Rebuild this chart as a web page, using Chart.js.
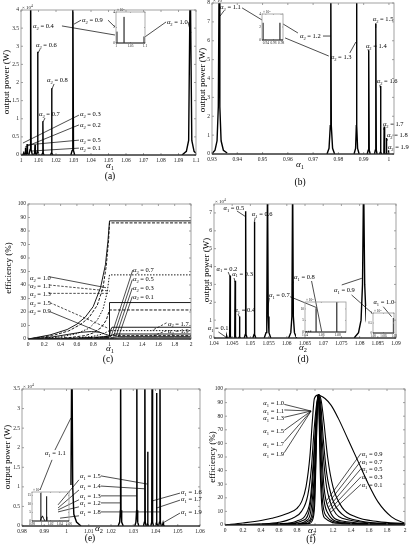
<!DOCTYPE html>
<html>
<head>
<meta charset="utf-8">
<script src="https://cdn.jsdelivr.net/npm/chart.js@4.4.1/dist/chart.umd.min.js"></script>
<style>
  body { margin: 0; background: #fff; }
  #page { position: relative; width: 415px; height: 550px; overflow: hidden; background: #fff; }
  .cell { position: absolute; }
</style>
</head>
<body>
<div id="page"></div>
<script>
// ---------- (a) output power vs alpha1, alpha2 = 0.1 .. 1.0 (x10^4 W) ----------
const aTicksX = [1, 1.01, 1.02, 1.03, 1.04, 1.05, 1.06, 1.07, 1.08, 1.09, 1.1];
const aTicksY = [0, 0.5, 1, 1.5, 2, 2.5, 3, 3.5, 4];
const aPeaks = [
  [[1.0008, 0], [1.0013, 0.03], [1.0015, 0.1], [1.0017, 0.03], [1.0022, 0]],          // 0.1
  [[1.0018, 0], [1.0023, 0.05], [1.0025, 0.2], [1.0027, 0.05], [1.0032, 0]],          // 0.2
  [[1.0028, 0], [1.0033, 0.07], [1.0035, 0.3], [1.0037, 0.07], [1.0042, 0]],          // 0.3
  [[1.0045, 0], [1.0052, 0.15], [1.0055, 5], [1.0058, 0.15], [1.0065, 0]],            // 0.4
  [[1.0072, 0], [1.0078, 0.06], [1.008, 0.28], [1.0082, 0.06], [1.0088, 0]],          // 0.5
  [[1.0088, 0], [1.0093, 0.1], [1.0095, 2.85], [1.0097, 0.1], [1.0102, 0]],           // 0.6
  [[1.0118, 0], [1.0123, 0.05], [1.0125, 0.93], [1.0127, 0.05], [1.0132, 0]],         // 0.7
  [[1.0168, 0], [1.0173, 0.05], [1.0175, 1.84], [1.0177, 0.05], [1.0182, 0]],         // 0.8
  [[1.0285, 0], [1.0292, 0.12], [1.0296, 5], [1.03, 0.12], [1.0307, 0]],              // 0.9
  [[1.092, 0], [1.0945, 0.1], [1.0958, 0.4], [1.0967, 5], [1.0976, 0.4], [1.0989, 0.1], [1.1, 0.05]] // 1.0
];
const aNotes = [
  {v: '0.4', x: 1.0069, y: 3.50, l: [[1.0234, 3.56, 1.0537, 3.31]]},
  {v: '0.9', x: 1.0349, y: 3.67, l: [[1.0343, 3.72, 1.0303, 3.61], [1.0497, 3.72, 1.0537, 3.53]]},
  {v: '1.0', x: 1.0834, y: 3.61, l: [[1.0829, 3.67, 1.0709, 3.26], [1.0954, 3.67, 1.0971, 3.37]]},
  {v: '0.6', x: 1.0086, y: 2.98, l: [[1.0109, 2.92, 1.0097, 2.81]]},
  {v: '0.8', x: 1.0149, y: 2.01, l: [[1.0189, 1.96, 1.0177, 1.82]]},
  {v: '0.7', x: 1.0103, y: 1.08, l: [[1.0137, 1.02, 1.0126, 0.91]]},
  {v: '0.3', x: 1.0337, y: 1.08, l: [[1.0331, 1.10, 1.0011, 0.33]]},
  {v: '0.2', x: 1.0337, y: 0.77, l: [[1.0331, 0.83, 1.0023, 0.22]]},
  {v: '0.5', x: 1.0337, y: 0.36, l: [[1.0331, 0.41, 1.004, 0.28]]},
  {v: '0.1', x: 1.0337, y: 0.14, l: [[1.0331, 0.19, 1.0063, 0.11]]}
];
const aInsetTicksX = [1, 1.05, 1.1];
const aInsetTicksY = [0, 2, 4];
const aInset = [
  [[1.0033, 0], [1.0033, 1.47]],
  [[1.0277, 0], [1.0277, 3.37]],
  [[1.0967, 0], [1.0967, 0.84]]
];

// ---------- (b) output power vs alpha1, alpha2 = 1.1 .. 1.9 ----------
const bTicksX = [0.93, 0.94, 0.95, 0.96, 0.97, 0.98, 0.99, 1];
const bTicksY = [0, 1, 2, 3, 4, 5, 6, 7, 8];
const bPeaks = [
  [[0.93, 0.02], [0.9312, 0.2], [0.932, 0.7], [0.9325, 2.5], [0.9328, 9], [0.9331, 2.5], [0.9336, 0.7], [0.9345, 0.2], [0.936, 0.05]], // 1.1
  [[0.9755, 0], [0.9763, 0.3], [0.9768, 1.5], [0.977, 9], [0.9772, 1.5], [0.9777, 0.3], [0.9785, 0]],  // 1.2
  [[0.9862, 0], [0.9868, 0.3], [0.9871, 1.5], [0.9872, 9], [0.9873, 1.5], [0.9876, 0.3], [0.9882, 0]], // 1.3
  [[0.9914, 0], [0.9918, 0.2], [0.992, 5.5], [0.9922, 0.2], [0.9926, 0]],    // 1.4
  [[0.9943, 0], [0.9946, 0.2], [0.9948, 6.9], [0.995, 0.2], [0.9953, 0]],    // 1.5
  [[0.9963, 0], [0.9966, 0.1], [0.9967, 3.6], [0.9968, 0.1], [0.9971, 0]],   // 1.6
  [[0.9978, 0], [0.998, 0.05], [0.9981, 1.45], [0.9982, 0.05], [0.9984, 0]], // 1.7
  [[0.9987, 0], [0.9989, 0.03], [0.999, 0.85], [0.9991, 0.03], [0.9993, 0]], // 1.8
  [[0.9995, 0], [0.9997, 0.02], [0.9998, 0.2], [0.9999, 0.02], [1.0001, 0]]  // 1.9
];
const bNotes = [
  {v: '1.1', x: 0.9332, y: 7.68, l: [[0.9347, 7.58, 0.9332, 7.31], [0.9419, 7.74, 0.9498, 7.10]]},
  {v: '1.2', x: 0.9648, y: 6.15, l: [[0.9739, 6.25, 0.977, 6.25], [0.964, 6.41, 0.9581, 6.89]]},
  {v: '1.3', x: 0.977, y: 5.03, l: [[0.9845, 5.35, 0.9869, 5.93], [0.9762, 5.19, 0.9589, 6.15]]},
  {v: '1.4', x: 0.9909, y: 5.62, l: [[0.9917, 5.56, 0.992, 5.4]]},
  {v: '1.5', x: 0.9936, y: 7.05, l: [[0.9948, 6.94, 0.9948, 6.68]]},
  {v: '1.6', x: 0.9952, y: 3.76, l: [[0.9964, 3.66, 0.9966, 3.5]]},
  {v: '1.7', x: 0.9976, y: 1.48, l: [[0.998, 1.38, 0.998, 1.27]]},
  {v: '1.8', x: 0.9992, y: 0.90, l: [[0.9994, 0.79, 0.9992, 0.69]]},
  {v: '1.9', x: 0.9996, y: 0.26, l: []}
];
const bInsetTicksX = [0.94, 0.96, 0.98];
const bInsetTicksY = [0, 2, 4];
const bInset = [
  [[0.9328, 0], [0.9328, 2.65]],
  [[0.977, 0], [0.977, 2.65]]
];

// ---------- (c) efficiency vs alpha1 ----------
const cTicksX = [0, 0.2, 0.4, 0.6, 0.8, 1, 1.2, 1.4, 1.6, 1.8, 2];
const cTicksY = [0, 10, 20, 30, 40, 50, 60, 70, 80, 90, 100];
const cNames = ['1.0', '1.1', '1.3', '1.5', '1.7', '1.9', '0.9', '0.7', '0.5', '0.3', '0.1'];
const cCurves = [
  [[0, 0], [0.27, 3], [0.48, 7], [0.6, 11], [0.7, 16], [0.8, 24], [0.89, 38], [0.95, 55], [0.98, 72], [1, 87.5], [2, 87.5]],
  [[0, 0], [0.3, 2.5], [0.5, 6], [0.65, 11], [0.75, 16], [0.85, 25], [0.92, 38], [0.96, 54], [0.99, 74], [1, 86], [2, 86]],
  [[0, 0], [0.4, 1.5], [0.6, 4], [0.75, 8], [0.85, 14], [0.92, 22], [0.97, 34], [1, 47.5], [2, 47.5]],
  [[0, 0], [0.5, 1], [0.7, 2.5], [0.8, 4.5], [0.9, 8.5], [0.96, 14], [1, 21.5], [2, 21.5]],
  [[0, 0], [0.6, 0.8], [0.8, 2], [0.9, 3.5], [0.96, 5], [1, 6.2], [2, 6.2]],
  [[0, 0], [0.7, 0.5], [0.9, 1.3], [1, 2.5], [2, 2.5]],
  [[0, 0], [0.3, 1.5], [0.5, 3.5], [0.65, 5], [0.78, 5.5], [0.88, 5], [0.95, 3.5], [1, 2.5], [1, 27], [2, 27]],
  [[0, 0], [0.5, 0.5], [0.8, 1.2], [0.95, 1.8], [1, 2], [1.01, 6], [1.03, 8.7], [2, 8.7]],
  [[0, 0], [0.6, 0.4], [0.9, 0.9], [1, 1.2], [1.02, 2.5], [1.06, 3.7], [2, 3.7]],
  [[0, 0], [0.7, 0.3], [1, 0.6], [1.04, 1.2], [1.1, 1.7], [2, 1.7]],
  [[0, 0], [1, 0.2], [1.06, 0.5], [1.14, 0.8], [2, 0.8]]
];
const cDash = [[], [3, 1.5], [1.5, 1.5], [3, 1.5], [1.5, 1.5], [3, 1.5], [], [], [], [], []];
const cNotes = [
  {v: '1.0', x: 0.025, y: 43.7, l: [[0.261, 46.1, 0.957, 38.0]]},
  {v: '1.1', x: 0.025, y: 38.1, l: [[0.261, 40, 1.006, 35.5]], d: true},
  {v: '1.3', x: 0.025, y: 31.9, l: [[0.261, 33.8, 0.985, 33.8]], d: true},
  {v: '1.5', x: 0.025, y: 25.2, l: [[0.27, 26.9, 0.985, 7.9]], d: true},
  {v: '0.9', x: 0.025, y: 18.9, l: [[0.27, 20.2, 0.883, 5]]},
  {v: '0.7', x: 1.288, y: 49.3, l: [[1.285, 51, 1.02, 2]]},
  {v: '0.5', x: 1.288, y: 42.6, l: [[1.28, 44, 1.05, 2]]},
  {v: '0.3', x: 1.288, y: 36.3, l: [[1.28, 37.8, 1.08, 2]]},
  {v: '0.1', x: 1.288, y: 30.0, l: [[1.28, 31.5, 1.11, 1.5]]},
  {v: '1.7', x: 1.718, y: 10.0, l: [[1.70, 12, 1.518, 6.2]], d: true},
  {v: '1.9', x: 1.718, y: 4.4, l: [[1.70, 6.2, 1.54, 2.5]], d: true}
];

// ---------- (d) output power vs alpha2, alpha1 = 0.1 .. 1.0 ----------
const dTicksX = [1.04, 1.045, 1.05, 1.055, 1.06, 1.065, 1.07, 1.075, 1.08, 1.085, 1.09];
const dTicksY = [0, 1, 2, 3, 4, 5, 6, 7];
const dPeaks = [
  [[1.0432, 0], [1.0434, 0.03], [1.0435, 0.1], [1.0436, 0.03], [1.0438, 0]],  // 0.1
  [[1.0441, 0], [1.0443, 0.1], [1.0444, 3.5], [1.0445, 0.1], [1.0447, 0]],    // 0.2
  [[1.0455, 0], [1.0457, 0.1], [1.0458, 3.2], [1.0459, 0.1], [1.0461, 0]],    // 0.3
  [[1.0467, 0], [1.0469, 0.05], [1.047, 1.2], [1.0471, 0.05], [1.0473, 0]],   // 0.4
  [[1.0483, 0], [1.0486, 0.2], [1.0487, 7.1], [1.0488, 0.2], [1.0491, 0]],    // 0.5
  [[1.0507, 0], [1.051, 0.2], [1.0511, 6.5], [1.0512, 0.2], [1.0515, 0]],     // 0.6
  [[1.0538, 0], [1.0543, 0.3], [1.0545, 1.2], [1.0547, 9], [1.0549, 1.2], [1.0551, 0.3], [1.0556, 0]], // 0.7
  [[1.0605, 0], [1.0611, 0.3], [1.0614, 1.2], [1.0616, 9], [1.0618, 1.2], [1.0621, 0.3], [1.0627, 0]], // 0.8
  [[1.0785, 0], [1.0797, 0.3], [1.0804, 1], [1.0808, 3], [1.0811, 9], [1.0814, 3], [1.0818, 1], [1.0825, 0.3], [1.0837, 0]] // 0.9
];
const dNotes = [
  {v: '0.1', x: 1.0383, y: 0.43, l: [[1.0412, 0.34, 1.0435, 0.02]]},
  {v: '0.2', x: 1.0407, y: 3.77, l: [[1.0439, 3.69, 1.0444, 3.44]]},
  {v: '0.3', x: 1.045, y: 3.49, l: [[1.0455, 3.36, 1.0458, 3.13]]},
  {v: '0.4', x: 1.0456, y: 1.44, l: [[1.0466, 1.34, 1.047, 1.18]]},
  {v: '0.5', x: 1.0426, y: 7.18, l: [[1.0463, 7.11, 1.0487, 6.79]]},
  {v: '0.6', x: 1.0504, y: 6.83, l: [[1.0513, 6.74, 1.0511, 6.51]]},
  {v: '0.7', x: 1.0551, y: 2.29, l: [[1.0552, 2.25, 1.0547, 1.57], [1.0609, 2.31, 1.0682, 1.70]]},
  {v: '0.8', x: 1.062, y: 3.28, l: [[1.0618, 3.15, 1.0615, 2.97], [1.0668, 3.19, 1.0696, 0.35]]},
  {v: '0.9', x: 1.073, y: 2.59, l: [[1.0751, 2.97, 1.0806, 3.34], [1.0778, 2.41, 1.0835, 1.38]]},
  {v: '1.0', x: 1.0838, y: 1.89, l: [[1.0865, 1.75, 1.0888, 1.19]]}
];
const dInset1TicksX = [1.04, 1.06, 1.08];
const dInset1TicksY = [0, 5, 10];
const dInset1 = [
  [[1.042, 0], [1.042, 0.4]],
  [[1.0445, 0], [1.0445, 0.5]],
  [[1.047, 0], [1.047, 0.6]],
  [[1.0535, 0], [1.0535, 10.3]],
  [[1.0788, 0], [1.0788, 14]]
];
const dInset2TicksX = [1.08, 1.085, 1.09];
const dInset2TicksY = [0, 0.5, 1];
const dInset2 = [
  [[1.0897, 0], [1.0897, 0.75]]
];

// ---------- (e) output power vs alpha2, alpha1 = 1.1 .. 1.9 ----------
const eTicksX = [0.98, 0.99, 1, 1.01, 1.02, 1.03, 1.04, 1.05, 1.06];
const eTicksY = [0, 0.5, 1, 1.5, 2, 2.5, 3, 3.5];
const ePeaks = [
  [[0.9985, 0], [1.0005, 0.1], [1.0015, 0.3], [1.002, 1], [1.0024, 5], [1.0028, 1], [1.0033, 0.3], [1.0045, 0.1], [1.0065, 0]], // 1.1
  [[1.0232, 0], [1.0239, 0.1], [1.0242, 0.4], [1.0243, 5], [1.0245, 0.4], [1.0248, 0.1], [1.0255, 0]], // 1.2
  [[1.0307, 0], [1.0312, 0.1], [1.0315, 0.4], [1.0316, 5], [1.0317, 0.4], [1.032, 0.1], [1.0325, 0]],  // 1.3
  [[1.0346, 0], [1.035, 0.1], [1.0352, 5], [1.0354, 0.1], [1.0358, 0]],       // 1.4
  [[1.0361, 0], [1.0364, 0.05], [1.0365, 1.9], [1.0366, 0.05], [1.0369, 0]],  // 1.5
  [[1.0379, 0], [1.0383, 0.1], [1.0385, 5], [1.0387, 0.1], [1.0391, 0]],      // 1.6
  [[1.04, 0], [1.0404, 0.08], [1.0405, 3.4], [1.0406, 0.08], [1.041, 0]],     // 1.7
  [[1.0414, 0], [1.0418, 0.1], [1.042, 5], [1.0422, 0.1], [1.0426, 0]],       // 1.8
  [[1.0428, 0], [1.0432, 0.03], [1.0434, 0.08], [1.0436, 0.03], [1.044, 0]]   // 1.9
];
const eNotes = [
  {v: '1.1', x: 0.9903, y: 1.81, l: [[0.9948, 1.94, 1.002, 2.76], [0.9935, 1.69, 0.9881, 0.92]]},
  {v: '1.5', x: 1.0061, y: 1.23, l: [[1.0155, 1.28, 1.0365, 1.07], [1.0056, 1.18, 0.9962, 0.54]]},
  {v: '1.4', x: 1.0061, y: 0.97, l: [[1.0155, 1.02, 1.0352, 0.95], [1.0056, 0.92, 0.9962, 0.46]]},
  {v: '1.3', x: 1.0061, y: 0.72, l: [[1.0155, 0.77, 1.0316, 0.77], [1.0056, 0.67, 0.9962, 0.41]]},
  {v: '1.2', x: 1.0061, y: 0.54, l: [[1.0155, 0.59, 1.0243, 0.59], [1.0056, 0.49, 0.9962, 0.36]]},
  {v: '1.8', x: 1.0061, y: 0.31, l: [[1.0155, 0.36, 1.042, 0.36], [1.0056, 0.26, 0.9971, 0.2]]},
  {v: '1.6', x: 1.0515, y: 0.82, l: [[1.051, 0.84, 1.0385, 0.64]]},
  {v: '1.7', x: 1.0515, y: 0.64, l: [[1.051, 0.66, 1.0405, 0.46]]},
  {v: '1.9', x: 1.0515, y: 0.31, l: [[1.051, 0.33, 1.0434, 0.08]]}
];
const eInsetTicksX = [0.98, 1, 1.02, 1.04, 1.06];
const eInsetTicksY = [0, 5, 10, 15];
const eInset = [
  [[0.9992, 0], [0.9992, 16.5]],
  [[0.998, 0], [1.0, 1.5], [1.0026, 3], [1.005, 1.5], [1.008, 0]],
  [[1.0117, 0], [1.0117, 14.5]],
  [[1.0122, 0], [1.0122, 2.5]]
];

// ---------- (f) efficiency vs alpha2 ----------
const fTicksX = [0, 0.2, 0.4, 0.6, 0.8, 1, 1.2, 1.4, 1.6, 1.8, 2];
const fTicksY = [0, 10, 20, 30, 40, 50, 60, 70, 80, 90, 100];
const fCurves = [
  [[0, 0], [0.2, 1.5], [0.4, 3.3], [0.52, 4.9], [0.7, 8.6], [0.8, 12.3], [0.85, 17], [0.9, 28], [0.944, 51], [0.97, 76], [0.993, 93], [1.03, 95.5], [1.06, 95], [1.111, 93], [1.18, 88], [1.259, 78.4], [1.37, 62.5], [1.48, 46.6], [1.59, 30.6], [1.7, 17], [1.85, 6], [2, 1.2]],
  [[0, 0], [0.4, 0.8], [0.6, 2], [0.75, 5], [0.85, 10], [0.92, 22], [0.96, 42], [0.99, 70], [1.02, 90], [1.045, 96], [1.07, 91], [1.1, 75], [1.14, 50], [1.2, 28], [1.3, 13], [1.45, 6], [1.7, 2.5], [2, 1]],
  [[0, 0], [0.6, 1], [0.8, 3], [0.9, 8], [0.95, 20], [0.99, 55], [1.02, 87], [1.042, 96], [1.065, 88], [1.09, 65], [1.13, 38], [1.2, 18], [1.3, 8], [1.5, 3], [2, 0.6]],
  [[0, 0], [0.7, 1], [0.85, 3], [0.93, 9], [0.97, 28], [1.0, 62], [1.025, 90], [1.04, 96], [1.06, 86], [1.08, 62], [1.12, 32], [1.18, 15], [1.3, 5], [2, 0.4]],
  [[0, 0], [0.8, 1], [0.9, 3], [0.95, 9], [0.99, 35], [1.015, 75], [1.038, 96], [1.055, 85], [1.075, 55], [1.1, 28], [1.16, 11], [1.3, 3], [2, 0.3]],
  [[0, 0], [0.85, 1], [0.93, 3], [0.97, 10], [1.0, 40], [1.02, 80], [1.037, 96], [1.052, 82], [1.07, 48], [1.09, 24], [1.14, 9], [1.3, 2], [2, 0.2]],
  [[0, 0], [0.9, 1], [0.96, 4], [0.99, 15], [1.01, 50], [1.025, 85], [1.036, 96], [1.048, 80], [1.062, 45], [1.08, 20], [1.12, 7], [1.3, 1.5], [2, 0.2]],
  [[0, 0], [0.93, 1], [0.98, 5], [1.0, 20], [1.015, 60], [1.028, 90], [1.036, 96], [1.046, 78], [1.058, 40], [1.075, 15], [1.11, 5], [1.3, 1], [2, 0.1]]
];
const fNotes = [
  {v: '1.0', x: 0.426, y: 88.0, l: [[0.659, 88.7, 0.956, 83.8]]},
  {v: '1.1', x: 0.426, y: 82.4, l: [[0.659, 84.6, 0.956, 83.8]]},
  {v: '1.3', x: 0.426, y: 77.0, l: [[0.659, 79.2, 0.956, 83.8]]},
  {v: '1.5', x: 0.426, y: 67.6, l: [[0.659, 69.6, 0.956, 83.8]]},
  {v: '1.7', x: 0.426, y: 57.9, l: [[0.659, 61.3, 0.956, 83.8]]},
  {v: '1.9', x: 0.426, y: 50.7, l: [[0.659, 53.2, 0.956, 83.8]]},
  {v: '0.9', x: 1.519, y: 50.5, l: [[1.511, 52.7, 1.13, 18]]},
  {v: '0.7', x: 1.519, y: 45.1, l: [[1.511, 47.1, 1.14, 15.5]]},
  {v: '0.5', x: 1.519, y: 39.5, l: [[1.511, 41.4, 1.15, 13]]},
  {v: '0.3', x: 1.519, y: 33.6, l: [[1.511, 35.5, 1.16, 11]]},
  {v: '0.1', x: 1.519, y: 27.9, l: [[1.511, 29.9, 1.17, 9]]}
];

// ---------- drawing helpers ----------
const serif = '"Liberation Serif", "DejaVu Serif", serif';
const page = document.getElementById('page');
const fmt = v => String(Number(v.toFixed(4)));

function alphaText(ctx, x, y, sub, rest, size, measureOnly) {
  ctx.font = 'italic ' + size + 'px ' + serif;
  const w1 = ctx.measureText('α').width;
  if (!measureOnly) ctx.fillText('α', x, y);
  ctx.font = (size * 0.7) + 'px ' + serif;
  const w2 = ctx.measureText(sub).width;
  if (!measureOnly) ctx.fillText(sub, x + w1, y + size * 0.28);
  ctx.font = size + 'px ' + serif;
  const w3 = ctx.measureText(rest).width;
  if (!measureOnly) ctx.fillText(rest, x + w1 + w2, y);
  return w1 + w2 + w3;
}

const paper = {
  id: 'paper',
  afterDatasetsDraw(chart, args, o) {
    const ctx = chart.ctx;
    ctx.save();
    ctx.fillStyle = '#fff';
    (o.covers || []).forEach(c => ctx.fillRect(c.l - o.off.l, c.t - o.off.t, c.r - c.l, c.b - c.t));
    ctx.restore();
  },
  afterDraw(chart, args, o) {
    const {ctx, chartArea: a, scales: {x, y}} = chart;
    const ox = o.off.l, oy = o.off.t;
    ctx.save();
    // box frame
    ctx.strokeStyle = o.frame || '#8a8a8a';
    ctx.lineWidth = 0.8;
    ctx.strokeRect(a.left, a.top, a.right - a.left, a.bottom - a.top);
    // inward tick marks on all four sides
    const tl = o.tick || 2;
    ctx.beginPath();
    x.ticks.forEach(t => {
      const p = x.getPixelForValue(t.value);
      ctx.moveTo(p, a.bottom); ctx.lineTo(p, a.bottom - tl);
      ctx.moveTo(p, a.top); ctx.lineTo(p, a.top + tl);
    });
    y.ticks.forEach(t => {
      const p = y.getPixelForValue(t.value);
      ctx.moveTo(a.left, p); ctx.lineTo(a.left + tl, p);
      ctx.moveTo(a.right, p); ctx.lineTo(a.right - tl, p);
    });
    ctx.stroke();
    // baseline
    ctx.strokeStyle = '#000';
    ctx.lineWidth = o.base || 1;
    ctx.beginPath(); ctx.moveTo(a.left, a.bottom); ctx.lineTo(a.right, a.bottom); ctx.stroke();

    // exponent note above the y axis
    if (o.exp) {
      const s = o.expSize || 5;
      ctx.fillStyle = '#222';
      ctx.font = s + 'px ' + serif;
      ctx.textBaseline = 'alphabetic';
      const bx = a.left + 1, by = a.top - 1;
      ctx.fillText('× 10', bx, by);
      const w = ctx.measureText('× 10').width;
      ctx.font = (s * 0.7) + 'px ' + serif;
      ctx.fillText(o.exp, bx + w, by - s * 0.4);
    }

    // labelled leader lines
    ctx.fillStyle = '#000';
    ctx.strokeStyle = '#000';
    ctx.lineWidth = 0.7;
    ctx.textBaseline = 'alphabetic';
    (o.notes || []).forEach(n => {
      ctx.setLineDash(n.d ? [2.5, 1.5] : []);
      n.l.forEach(s => {
        ctx.beginPath();
        ctx.moveTo(x.getPixelForValue(s[0]), y.getPixelForValue(s[1]));
        ctx.lineTo(x.getPixelForValue(s[2]), y.getPixelForValue(s[3]));
        ctx.stroke();
      });
      ctx.setLineDash([]);
      alphaText(ctx, x.getPixelForValue(n.x), y.getPixelForValue(n.y), o.sub, ' = ' + n.v, 6.5);
    });

    // axis titles and caption
    ctx.textBaseline = 'middle';
    if (o.yTitle) {
      ctx.save();
      ctx.translate(o.yTitle.x - ox, o.yTitle.y - oy);
      ctx.rotate(-Math.PI / 2);
      ctx.textAlign = 'center';
      ctx.font = '9px ' + serif;
      ctx.fillText(o.yTitle.t, 0, 0);
      ctx.restore();
    }
    if (o.xTitle) {
      const w = alphaText(ctx, 0, 0, o.xTitle.sub, '', 9, true);
      alphaText(ctx, o.xTitle.x - ox - w / 2, o.xTitle.y - oy, o.xTitle.sub, '', 9);
    }
    if (o.cap) {
      ctx.textAlign = 'center';
      ctx.font = '9.5px ' + serif;
      ctx.fillText(o.cap.t, o.cap.x - ox, o.cap.y - oy);
    }
    ctx.restore();
  }
};

function makeChart(c) {
  const div = document.createElement('div');
  div.className = 'cell';
  div.style.left = c.cell.l + 'px';
  div.style.top = c.cell.t + 'px';
  div.style.width = (c.cell.r - c.cell.l) + 'px';
  div.style.height = (c.cell.b - c.cell.t) + 'px';
  const cv = document.createElement('canvas');
  div.appendChild(cv);
  page.appendChild(div);
  c.paper.off = c.cell;
  const tickFont = {family: serif, size: c.tickSize};
  return new Chart(cv, {
    type: 'scatter',
    data: {datasets: c.sets},
    options: {
      responsive: true,
      maintainAspectRatio: false,
      animation: false,
      events: [],
      layout: {
        padding: {
          left: c.plot.l - c.cell.l - c.yw,
          top: c.plot.t - c.cell.t,
          right: c.cell.r - c.plot.r,
          bottom: c.cell.b - c.plot.b - c.xh
        }
      },
      plugins: {legend: {display: false}, tooltip: {enabled: false}, paper: c.paper},
      scales: {
        x: {
          type: 'linear', min: c.xr[0], max: c.xr[1],
          grid: {display: false, drawTicks: false}, border: {display: false},
          afterBuildTicks: s => { s.ticks = c.xt.map(v => ({value: v})); },
          afterFit: s => { s.height = c.xh; s.paddingLeft = 0; s.paddingRight = 0; },
          ticks: {autoSkip: false, maxRotation: 0, minRotation: 0, padding: c.pad, color: '#222', font: tickFont, callback: v => fmt(v)}
        },
        y: {
          type: 'linear', min: c.yr[0], max: c.yr[1],
          grid: {display: false, drawTicks: false}, border: {display: false},
          afterBuildTicks: s => { s.ticks = c.yt.map(v => ({value: v})); },
          afterFit: s => { s.width = c.yw; s.paddingTop = 0; s.paddingBottom = 0; },
          ticks: {autoSkip: false, padding: c.pad, color: '#222', font: tickFont, callback: v => fmt(v)}
        }
      }
    },
    plugins: [paper]
  });
}

const toXY = pts => pts.map(p => ({x: p[0], y: p[1]}));
const spikeSets = (list, w) => list.map(pts => ({
  data: toXY(pts), showLine: true, pointRadius: 0, borderColor: '#000', borderWidth: w, tension: 0
}));

// inset boxes (page pixels): cell = canvas, plot = inner frame
const insetA = {cell: {l: 106, t: 6, r: 148, b: 50}, plot: {l: 116, t: 12, r: 145, b: 43}};
const insetB = {cell: {l: 253, t: 8, r: 288, b: 47}, plot: {l: 262, t: 14, r: 283, b: 40}};
const insetD1 = {cell: {l: 296, t: 294, r: 349, b: 337}, plot: {l: 305, t: 302, r: 346, b: 332}};
const insetD2 = {cell: {l: 366, t: 306, r: 397, b: 338}, plot: {l: 373, t: 313, r: 394, b: 333}};
const insetE = {cell: {l: 24, t: 485, r: 72, b: 526}, plot: {l: 32, t: 492, r: 69, b: 521}};

// (a)
makeChart({
  cell: {l: 0, t: 0, r: 207, b: 187}, plot: {l: 21, t: 10, r: 196, b: 155}, yw: 12, xh: 9, pad: 2, tickSize: 5.5,
  xr: [1, 1.1], yr: [0, 4], xt: aTicksX, yt: aTicksY,
  sets: spikeSets(aPeaks, 1.4),
  paper: {sub: '2', notes: aNotes, exp: '4', covers: [insetA.cell],
    yTitle: {t: 'output power (W)', x: 7, y: 82}, xTitle: {sub: '1', x: 110, y: 166}, cap: {t: '(a)', x: 110, y: 176}}
});
// (b)
makeChart({
  cell: {l: 197, t: 0, r: 415, b: 187}, plot: {l: 212, t: 3, r: 394, b: 154}, yw: 12, xh: 9, pad: 2, tickSize: 5.5,
  xr: [0.93, 1.002], yr: [0, 8], xt: bTicksX, yt: bTicksY,
  sets: spikeSets(bPeaks, 1.4),
  paper: {sub: '2', notes: bNotes, exp: '4', covers: [insetB.cell],
    yTitle: {t: 'output power (W)', x: 203, y: 80}, xTitle: {sub: '1', x: 300, y: 165}, cap: {t: '(b)', x: 300, y: 182}}
});
// (c)
makeChart({
  cell: {l: 0, t: 187, r: 207, b: 365}, plot: {l: 28, t: 204, r: 191, b: 339}, yw: 12, xh: 9, pad: 2, tickSize: 5.5,
  xr: [0, 2], yr: [0, 100], xt: cTicksX, yt: cTicksY,
  sets: cCurves.map((pts, i) => ({
    label: cNames[i], data: toXY(pts), showLine: true, pointRadius: 0, borderColor: '#000',
    borderWidth: 0.9, borderDash: cDash[i], tension: 0
  })),
  paper: {sub: '2', notes: cNotes,
    yTitle: {t: 'efficiency (%)', x: 9, y: 268}, xTitle: {sub: '1', x: 110, y: 349}, cap: {t: '(c)', x: 108, y: 359}}
});
// (d)
makeChart({
  cell: {l: 197, t: 187, r: 415, b: 365}, plot: {l: 214, t: 204, r: 396, b: 338}, yw: 12, xh: 9, pad: 2, tickSize: 5.5,
  xr: [1.04, 1.09], yr: [0, 7.5], xt: dTicksX, yt: dTicksY,
  sets: spikeSets(dPeaks, 1.4),
  paper: {sub: '1', notes: dNotes, exp: '4', covers: [insetD1.cell, insetD2.cell],
    yTitle: {t: 'output power (W)', x: 207, y: 270}, xTitle: {sub: '2', x: 303, y: 348}, cap: {t: '(d)', x: 303, y: 359}}
});
// (e)
makeChart({
  cell: {l: 0, t: 365, r: 207, b: 550}, plot: {l: 22, t: 389, r: 200, b: 526}, yw: 12, xh: 9, pad: 2, tickSize: 5.5,
  xr: [0.98, 1.06], yr: [0, 3.5], xt: eTicksX, yt: eTicksY,
  sets: spikeSets(ePeaks, 1.4),
  paper: {sub: '1', notes: eNotes, exp: '4', covers: [insetE.cell],
    yTitle: {t: 'output power (W)', x: 8, y: 457}, xTitle: {sub: '2', x: 99, y: 529}, cap: {t: '(e)', x: 90, y: 538}}
});
// (f)
makeChart({
  cell: {l: 197, t: 365, r: 415, b: 550}, plot: {l: 225, t: 389, r: 405, b: 525}, yw: 12, xh: 9, pad: 2, tickSize: 5.5,
  xr: [0, 2], yr: [0, 100], xt: fTicksX, yt: fTicksY,
  sets: fCurves.map(pts => ({
    data: toXY(pts), showLine: true, pointRadius: 0, borderColor: '#000', borderWidth: 1.1,
    cubicInterpolationMode: 'monotone'
  })),
  paper: {sub: '1', notes: fNotes,
    yTitle: {t: 'efficiency (%)', x: 213, y: 457}, xTitle: {sub: '2', x: 312, y: 531}, cap: {t: '(f)', x: 311, y: 539}}
});

// insets
const insetPaper = () => ({tick: 1, frame: '#999', base: 0.8, exp: '5', expSize: 3.5});
makeChart({cell: insetA.cell, plot: insetA.plot, yw: 5, xh: 5, pad: 1, tickSize: 3.5,
  xr: [1, 1.1], yr: [0, 4], xt: aInsetTicksX, yt: aInsetTicksY, sets: spikeSets(aInset, 1), paper: insetPaper()});
makeChart({cell: insetB.cell, plot: insetB.plot, yw: 5, xh: 5, pad: 1, tickSize: 3.5,
  xr: [0.93, 0.985], yr: [0, 4], xt: bInsetTicksX, yt: bInsetTicksY, sets: spikeSets(bInset, 1), paper: insetPaper()});
makeChart({cell: insetD1.cell, plot: insetD1.plot, yw: 6, xh: 5, pad: 1, tickSize: 3.5,
  xr: [1.04, 1.09], yr: [0, 13], xt: dInset1TicksX, yt: dInset1TicksY, sets: spikeSets(dInset1, 1), paper: insetPaper()});
makeChart({cell: insetD2.cell, plot: insetD2.plot, yw: 6, xh: 5, pad: 1, tickSize: 3,
  xr: [1.08, 1.09], yr: [0, 1], xt: dInset2TicksX, yt: dInset2TicksY, sets: spikeSets(dInset2, 1), paper: insetPaper()});
makeChart({cell: insetE.cell, plot: insetE.plot, yw: 6, xh: 5, pad: 1, tickSize: 3.5,
  xr: [0.98, 1.06], yr: [0, 17], xt: eInsetTicksX, yt: eInsetTicksY, sets: spikeSets(eInset, 1), paper: insetPaper()});
</script>
</body>
</html>
